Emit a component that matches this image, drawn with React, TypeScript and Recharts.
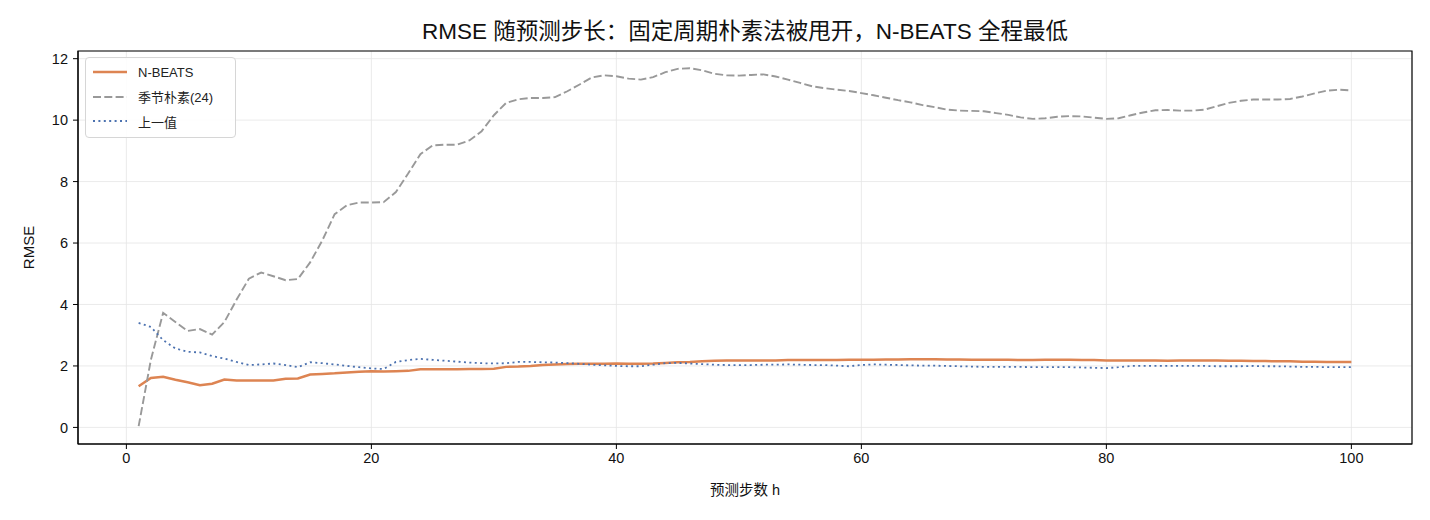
import { LineChart, Line, XAxis, YAxis, CartesianGrid, ReferenceArea } from 'recharts'

const horizons = [
  1, 2, 3, 4, 5, 6, 7, 8, 9, 10, 11, 12, 13, 14, 15, 16, 17, 18, 19, 20,
  21, 22, 23, 24, 25, 26, 27, 28, 29, 30, 31, 32, 33, 34, 35, 36, 37, 38, 39, 40,
  41, 42, 43, 44, 45, 46, 47, 48, 49, 50, 51, 52, 53, 54, 55, 56, 57, 58, 59, 60,
  61, 62, 63, 64, 65, 66, 67, 68, 69, 70, 71, 72, 73, 74, 75, 76, 77, 78, 79, 80,
  81, 82, 83, 84, 85, 86, 87, 88, 89, 90, 91, 92, 93, 94, 95, 96, 97, 98, 99, 100,
]

const nbeats = [
  1.34, 1.61, 1.65, 1.55, 1.47, 1.37, 1.42, 1.56, 1.53, 1.53,
  1.53, 1.53, 1.58, 1.59, 1.72, 1.74, 1.76, 1.79, 1.81, 1.83,
  1.82, 1.83, 1.84, 1.89, 1.89, 1.89, 1.89, 1.9, 1.9, 1.91,
  1.97, 1.98, 2.0, 2.03, 2.05, 2.06, 2.07, 2.07, 2.07, 2.08,
  2.07, 2.07, 2.08, 2.1, 2.12, 2.13, 2.15, 2.17, 2.18, 2.18,
  2.18, 2.18, 2.18, 2.19, 2.19, 2.19, 2.19, 2.19, 2.2, 2.2,
  2.2, 2.21, 2.21, 2.22, 2.22, 2.22, 2.21, 2.21, 2.2, 2.2,
  2.2, 2.2, 2.19, 2.19, 2.2, 2.2, 2.2, 2.19, 2.19, 2.18,
  2.18, 2.18, 2.18, 2.18, 2.17, 2.18, 2.18, 2.18, 2.18, 2.17,
  2.17, 2.16, 2.16, 2.15, 2.15, 2.14, 2.14, 2.13, 2.13, 2.13,
]

const seasonal = [
  0.04, 2.2, 3.73, 3.43, 3.14, 3.2, 3.02, 3.43, 4.16, 4.84,
  5.04, 4.92, 4.79, 4.83, 5.37, 6.09, 6.94, 7.23, 7.32, 7.32,
  7.33, 7.66, 8.26, 8.89, 9.18, 9.2, 9.2, 9.34, 9.64, 10.16,
  10.56, 10.68, 10.72, 10.72, 10.75, 10.94, 11.16, 11.39, 11.46, 11.43,
  11.35, 11.32, 11.4, 11.56, 11.67, 11.69, 11.62, 11.51, 11.46, 11.45,
  11.47, 11.49, 11.42, 11.32, 11.21, 11.1, 11.04, 10.99, 10.95, 10.88,
  10.81, 10.73, 10.65, 10.58, 10.49, 10.42, 10.34, 10.31, 10.3, 10.29,
  10.23, 10.17, 10.09, 10.04, 10.06, 10.11, 10.13, 10.12, 10.08, 10.04,
  10.06, 10.16, 10.25, 10.32, 10.33, 10.31, 10.31, 10.34, 10.45, 10.56,
  10.63, 10.67, 10.67, 10.67, 10.69, 10.77, 10.87, 10.96, 10.99, 10.97,
]

const lastValue = [
  3.4, 3.27, 2.84, 2.57, 2.46, 2.44, 2.32, 2.24, 2.13, 2.03,
  2.05, 2.08, 2.03, 1.96, 2.12, 2.09, 2.05, 2.0, 1.96, 1.92,
  1.9, 2.13, 2.19, 2.23, 2.2, 2.17, 2.14, 2.11, 2.09, 2.08,
  2.09, 2.13, 2.13, 2.12, 2.11, 2.09, 2.07, 2.04, 2.02, 2.0,
  1.99, 1.99, 2.04, 2.09, 2.1, 2.08, 2.06, 2.04, 2.03, 2.03,
  2.03, 2.04, 2.04, 2.05, 2.04, 2.03, 2.03, 2.01, 1.99, 2.03,
  2.05, 2.04, 2.03, 2.02, 2.01, 2.01, 2.0, 1.99, 1.98, 1.97,
  1.97, 1.97, 1.97, 1.96, 1.96, 1.96, 1.96, 1.95, 1.94, 1.93,
  1.96, 2.0, 2.0, 2.0, 2.0, 2.0, 2.0, 2.0, 1.99, 1.99,
  1.99, 2.0, 1.99, 1.99, 1.98, 1.97, 1.97, 1.96, 1.96, 1.96,
]

const xTicks = [0, 20, 40, 60, 80, 100]
const yTicks = [0, 2, 4, 6, 8, 10, 12]

const FONT = '"Liberation Sans", Arial, "Noto Sans CJK SC", sans-serif'

const series = [
  { key: 'nbeats', name: 'N-BEATS', color: '#dd8452', width: 2.5, dash: undefined as string | undefined },
  { key: 'seasonal', name: '季节朴素(24)', color: '#999999', width: 1.9, dash: '8 3.3' },
  { key: 'last', name: '上一值', color: '#4c72b0', width: 1.8, dash: '2 3.4' },
]

const data = horizons.map((h, i) => ({
  h,
  nbeats: nbeats[i],
  seasonal: seasonal[i],
  last: lastValue[i],
}))

function LegendBox() {
  return (
    <div
      style={{
        position: 'absolute',
        left: 85,
        top: 57,
        width: 137,
        border: '1px solid #d6d6d6',
        borderRadius: 4,
        background: 'rgba(255,255,255,0.85)',
        padding: '2px 6px 3px 6px',
        fontFamily: FONT,
        fontSize: 13,
        color: '#222',
      }}
    >
      {series.map((s) => (
        <div key={s.key} style={{ display: 'flex', alignItems: 'center', height: 24.5 }}>
          <svg width={36} height={10} style={{ marginRight: 10 }}>
            <line x1={1} y1={5} x2={35} y2={5} stroke={s.color} strokeWidth={s.width} strokeDasharray={s.dash} />
          </svg>
          <span>{s.name}</span>
        </div>
      ))}
    </div>
  )
}

export default function App() {
  return (
    <div style={{ position: 'absolute', left: 0, top: 0, width: 1430, height: 520, background: '#fff' }}>
      <div
        style={{
          position: 'absolute',
          left: 78,
          width: 1334,
          top: 19,
          textAlign: 'center',
          fontFamily: FONT,
          fontSize: 22.5,
          lineHeight: '26px',
          color: '#111',
        }}
      >
        RMSE 随预测步长：固定周期朴素法被甩开，N-BEATS 全程最低
      </div>
      <LineChart width={1430} height={520} data={data} margin={{ top: 51, right: 18, bottom: 0, left: 0 }}>
        <CartesianGrid stroke="#e6e6e6" strokeWidth={0.8} />
        <XAxis
          dataKey="h"
          type="number"
          domain={[-3.95, 104.95]}
          ticks={xTicks}
          allowDataOverflow
          height={76}
          tickSize={5}
          tickMargin={4}
          stroke="#000"
          tick={{ fill: '#111', fontSize: 14.5, fontFamily: FONT }}
          label={{ value: '预测步数 h', position: 'insideBottom', offset: 25, fill: '#111', fontSize: 14.5, fontFamily: FONT }}
        />
        <YAxis
          type="number"
          domain={[-0.54, 12.25]}
          ticks={yTicks}
          allowDataOverflow
          width={78}
          tickSize={5}
          tickMargin={5}
          stroke="#000"
          tick={{ fill: '#111', fontSize: 14.5, fontFamily: FONT }}
          label={(props: any) => {
            const vb = props.viewBox || {}
            const x = (vb.x ?? 0) + 28
            const y = (vb.y ?? 0) + (vb.height ?? 0) / 2
            return (
              <text
                x={x}
                y={y}
                transform={`rotate(-90 ${x} ${y})`}
                textAnchor="middle"
                dominantBaseline="central"
                fill="#111"
                fontSize={15}
                fontFamily={FONT}
              >
                RMSE
              </text>
            )
          }}
        />
        <ReferenceArea
          x1={-3.95}
          x2={104.95}
          y1={-0.54}
          y2={12.25}
          fill="none"
          stroke="#000"
          strokeWidth={1.2}
          ifOverflow="visible"
        />
        {series.map((s) => (
          <Line
            key={s.key}
            dataKey={s.key}
            name={s.name}
            type="linear"
            stroke={s.color}
            strokeWidth={s.width}
            strokeDasharray={s.dash}
            dot={false}
            activeDot={false}
            isAnimationActive={false}
          />
        ))}
      </LineChart>
      <LegendBox />
    </div>
  )
}
